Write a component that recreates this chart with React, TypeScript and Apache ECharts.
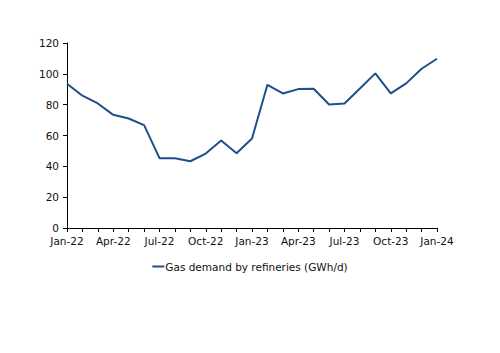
import React, { useEffect, useRef } from "react";
import * as echarts from "echarts";

const categories = [
  "Jan-22", "Feb-22", "Mar-22", "Apr-22", "May-22", "Jun-22", "Jul-22", "Aug-22", "Sep-22", "Oct-22", "Nov-22", "Dec-22",
  "Jan-23", "Feb-23", "Mar-23", "Apr-23", "May-23", "Jun-23", "Jul-23", "Aug-23", "Sep-23", "Oct-23", "Nov-23", "Dec-23",
  "Jan-24",
];
const gasDemand = [
  93.6, 85.8, 80.8, 73.4, 71.0, 66.7, 45.3, 45.3, 43.3, 48.3, 56.7, 48.5,
  58.0, 92.9, 87.3, 90.1, 90.3, 80.1, 80.8, 90.5, 100.3, 87.3, 93.8, 103.3,
  109.8,
];
const seriesName = "Gas demand by refineries (GWh/d)";

export default function App() {
  const ref = useRef<HTMLDivElement>(null);
  useEffect(() => {
    if (!ref.current) return;
    const chart = echarts.init(ref.current, null, { renderer: "svg" });
    const font = "DejaVu Sans";
    chart.setOption({
      animation: false,
      backgroundColor: "#ffffff",
      grid: { left: 67, right: 63, top: 43, bottom: 125 },
      legend: {
        data: [seriesName],
        top: 256,
        left: "center",
        icon: "rect",
        itemWidth: 12,
        itemHeight: 2,
        textStyle: { fontFamily: font, fontSize: 10.5, color: "#111", padding: [0, 0, 0, -4] },
      },
      xAxis: {
        type: "category",
        data: categories,
        boundaryGap: false,
        axisLine: { lineStyle: { color: "#000", width: 1 } },
        axisTick: { show: true, interval: 0, length: 4, lineStyle: { color: "#000" } },
        axisLabel: { interval: 2, fontFamily: font, fontSize: 10.5, color: "#111", margin: 7 },
        splitLine: { show: false },
      },
      yAxis: {
        type: "value",
        min: 0,
        max: 120,
        interval: 20,
        axisLine: { show: true, lineStyle: { color: "#000", width: 1 } },
        axisTick: { show: true, length: 4, lineStyle: { color: "#000" } },
        axisLabel: { fontFamily: font, fontSize: 10.5, color: "#111", margin: 8 },
        splitLine: { show: false },
      },
      series: [
        {
          name: seriesName,
          type: "line",
          data: gasDemand,
          symbol: "none",
          lineStyle: { color: "#1f4e8c", width: 2 },
          itemStyle: { color: "#1f4e8c" },
        },
      ],
    });
    return () => chart.dispose();
  }, []);
  return <div ref={ref} style={{ width: 500, height: 353, position: "absolute", left: 0, top: 0 }} />;
}
